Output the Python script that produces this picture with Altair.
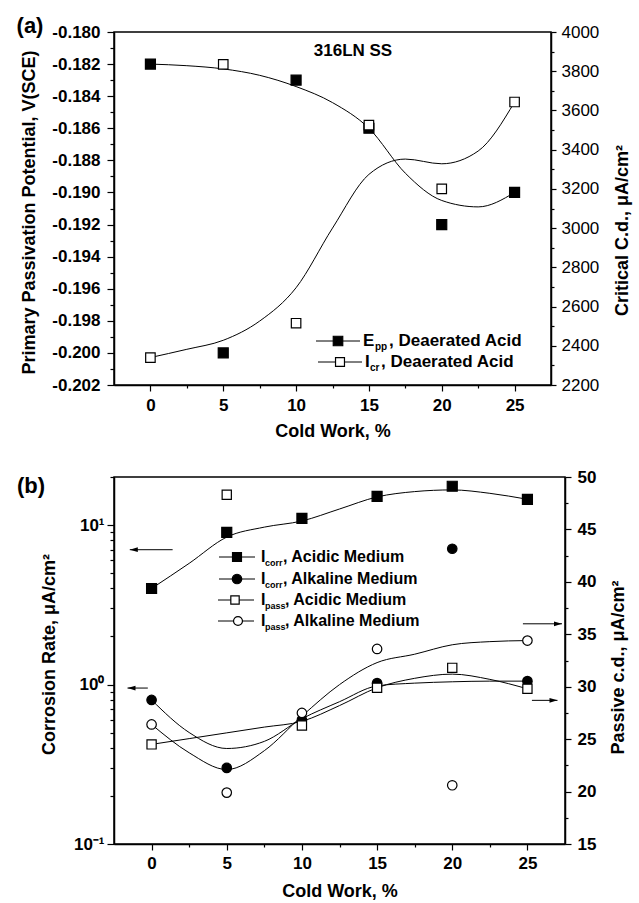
import altair as alt
import pandas as pd

FONT = "Liberation Sans"

# ---------------- data ----------------
cold_work = [0, 5, 10, 15, 20, 25]

# panel (a): primary passivation potential (left axis) and critical c.d. (right axis)
epp_v = [-0.182, -0.200, -0.183, -0.186, -0.192, -0.190]
icr_ua = [2340, 3835, 2515, 3525, 3200, 3643]
# fitted curves as drawn in the figure
fit_cw = [0, 2.5, 5, 7.5, 10, 12.5, 15, 17.5, 20, 22.5, 25]
epp_fit = [-0.1820, -0.1821, -0.1823, -0.1827, -0.1834, -0.1844, -0.1860,
           -0.1888, -0.1905, -0.1909, -0.1900]
icr_fit = [2340, 2382, 2428, 2526, 2696, 3000, 3274, 3352, 3328, 3393, 3643]

# panel (b): corrosion rate (left, log) and passive c.d. (right)
icorr_acid = [4.0, 9.0, 11.0, 15.1, 17.5, 14.5]
icorr_alk = [0.80, 0.30, 0.60, 1.02, 7.1, 1.05]
ipass_acid = [24.5, 48.3, 26.3, 29.9, 31.8, 29.8]
ipass_alk = [26.4, 19.9, 27.5, 33.6, 20.6, 34.4]
icorr_acid_fit = [4.0, 5.75, 8.4, 9.7, 10.6, 12.6, 15.0, 16.2, 16.6, 15.8, 14.5]
icorr_alk_fit = [0.80, 0.50, 0.397, 0.44, 0.61, 0.78, 0.98, 1.02, 1.04, 1.05, 1.05]
ipass_acid_fit = [24.5, 25.05, 25.6, 26.15, 26.7, 28.2, 29.9, 30.8, 31.2, 30.7, 29.8]
ipass_alk_fit = [26.4, 23.7, 22.1, 23.9, 27.2, 30.2, 32.3, 33.1, 34.0, 34.3, 34.4]

# axis pointer arrows (panel b)
arrow_left_from = [1.4, -0.25]
arrow_left_to = [-1.45, -1.6]
arrow_left_rate = [7.0, 0.95]
arrow_right_from = [24.7, 25.3]
arrow_right_to = [27.3, 27.0]
arrow_right_cd = [36.0, 28.7]

# tick values
x_ticks = [0, 2.5, 5, 7.5, 10, 12.5, 15, 17.5, 20, 22.5, 25]
epp_ticks = [round(-0.202 + 0.001 * i, 3) for i in range(23)]
icr_ticks = list(range(2200, 4001, 100))
rate_ticks = [0.1, 0.2, 0.3, 0.4, 0.5, 0.6, 0.7, 0.8, 0.9,
              1, 2, 3, 4, 5, 6, 7, 8, 9, 10, 20]
pcd_ticks = [15 + 2.5 * i for i in range(15)]

# ---------------- tables ----------------
df_a = pd.DataFrame({"cw": cold_work, "epp": epp_v, "icr": icr_ua})
fit_a = pd.DataFrame({"cw": fit_cw, "epp": epp_fit, "icr": icr_fit})
df_b = pd.DataFrame({"cw": cold_work, "ca": icorr_acid, "cl": icorr_alk,
                     "pa": ipass_acid, "pl": ipass_alk})
fit_b = pd.DataFrame({"cw": fit_cw, "ca": icorr_acid_fit, "cl": icorr_alk_fit,
                      "pa": ipass_acid_fit, "pl": ipass_alk_fit})
arr_l = pd.DataFrame({"x0": arrow_left_from, "x1": arrow_left_to, "y": arrow_left_rate})
arr_r = pd.DataFrame({"x0": arrow_right_from, "x1": arrow_right_to, "y": arrow_right_cd})
ONE = pd.DataFrame({"k": [0]})

XSCALE = alt.Scale(domain=[-2.5, 27.5], nice=False, zero=False)


# ---------------- helpers ----------------
def x_enc(label_pad, title_y, field="cw"):
    return alt.X(
        f"{field}:Q",
        scale=XSCALE,
        axis=alt.Axis(
            values=x_ticks,
            labelExpr="datum.value % 5 === 0 ? format(datum.value, 'd') : ''",
            tickSize={"condition": {"test": "datum.value % 5 === 0", "value": 6}, "value": 3},
            labelPadding=label_pad, labelOverlap=False,
            title="Cold Work, %", titleY=title_y,
        ),
    )


def txt(s, x, y, size=17, weight="bold", align="left"):
    return alt.Chart(ONE).mark_text(
        text=s, font=FONT, fontSize=size, fontWeight=weight, align=align,
        baseline="middle", color="black",
    ).encode(x=alt.value(x), y=alt.value(y))


def marker(shape, filled, size):
    return dict(shape=shape, filled=True, fill="black" if filled else "white",
                stroke="black", strokeWidth=1.2, size=size, opacity=1)


def legend_row(y, x0, x1, xm, shape, filled, msize, main, sub, rest,
               x_main, x_sub, x_rest, fs):
    line = alt.Chart(ONE).mark_rule(color="black", strokeWidth=1).encode(
        x=alt.value(x0), x2=alt.value(x1), y=alt.value(y))
    mk = alt.Chart(ONE).mark_point(**marker(shape, filled, msize)).encode(
        x=alt.value(xm), y=alt.value(y))
    return [line, mk, txt(main, x_main, y, fs), txt(sub, x_sub, y + 6, round(fs * 0.58)),
            txt(rest, x_rest, y, fs)]


# ---------------- panel (a) ----------------
xa = x_enc(6, 37)
ya_l_axis = alt.Axis(
    orient="left", values=epp_ticks,
    labelExpr="abs(round(datum.value * 1000)) % 2 === 0 ? replace(format(datum.value, '.3f'), '\u2212', '-') : ''",
    tickSize={"condition": {"test": "abs(round(datum.value * 1000)) % 2 === 0", "value": 7}, "value": 4},
    labelPadding=7, labelOverlap=False,
    title="Primary Passivation Potential, V(SCE)", titleX=-76, titleY=180,
    titleBaseline="bottom",
)
ya_l = dict(scale=alt.Scale(domain=[-0.202, -0.180], nice=False, zero=False), axis=ya_l_axis)
ya_r_axis = alt.Axis(
    orient="right", values=icr_ticks,
    labelExpr="datum.value % 200 === 0 ? format(datum.value, 'd') : ''",
    tickSize={"condition": {"test": "datum.value % 200 === 0", "value": 5}, "value": 3},
    labelPadding=5, labelFontWeight="normal", labelOverlap=False,
    title="Critical C.d., \u03bcA/cm\u00b2", titleAngle=270, titleBaseline="top",
    titleX=62, titleY=198,
)
ya_r = dict(scale=alt.Scale(domain=[2200, 4000], nice=False, zero=False), axis=ya_r_axis)

epp_line = alt.Chart(fit_a).mark_line(interpolate="monotone", color="black", strokeWidth=1).encode(
    x=xa, y=alt.Y("epp:Q", **ya_l))
epp_pts = alt.Chart(df_a).mark_point(**marker("square", True, 100)).encode(
    x=xa, y=alt.Y("epp:Q", **ya_l))
icr_line = alt.Chart(fit_a).mark_line(interpolate="monotone", color="black", strokeWidth=1).encode(
    x=xa, y=alt.Y("icr:Q", **ya_r))
icr_pts = alt.Chart(df_a).mark_point(**marker("square", False, 90)).encode(
    x=xa, y=alt.Y("icr:Q", **ya_r))

left_a = alt.layer(epp_line, epp_pts)
right_a = alt.layer(icr_line, icr_pts)

decor_a = [txt("(a)", -84, -6, 22, align="center"), txt("316LN SS", 239, 19, 17, align="center")]
decor_a += legend_row(309, 202, 246, 224, "square", True, 90, "E", "pp", ", Deaerated Acid",
                      249, 261, 275, 17)
decor_a += legend_row(330, 204, 248, 226, "square", False, 80, "I", "cr", ", Deaerated Acid",
                      251, 256, 267, 17)

panel_a = alt.layer(left_a, right_a, *decor_a).resolve_scale(y="independent").properties(
    width=437, height=353)

# ---------------- panel (b) ----------------
xb = x_enc(5, 38)
xb0 = x_enc(5, 38, "x0")
yb_l_axis = alt.Axis(
    orient="left", values=rate_ticks,
    labelExpr="datum.value === 0.1 ? '10\u207b\u00b9' : datum.value === 1 ? '10\u2070' : datum.value === 10 ? '10\u00b9' : ''",
    tickSize={"condition": {"test": "datum.value === 0.1 || datum.value === 1 || datum.value === 10", "value": 7}, "value": 4},
    labelPadding=3, labelOverlap=False,
    title="Corrosion Rate, \u03bcA/cm\u00b2", titleX=-56, titleY=177,
    titleBaseline="bottom",
)
yb_l = dict(scale=alt.Scale(type="log", domain=[0.1, 20], nice=False), axis=yb_l_axis)
yb_r_axis = alt.Axis(
    orient="right", values=pcd_ticks,
    labelExpr="datum.value % 5 === 0 ? format(datum.value, 'd') : ''",
    tickSize={"condition": {"test": "datum.value % 5 === 0", "value": 6}, "value": 3},
    labelPadding=6, labelOverlap=False,
    title="Passive c.d., \u03bcA/cm\u00b2", titleAngle=270, titleBaseline="top",
    titleX=44, titleY=190,
)
yb_r = dict(scale=alt.Scale(domain=[15, 50], nice=False, zero=False), axis=yb_r_axis)


def fit_line(field, ydef):
    return alt.Chart(fit_b).mark_line(interpolate="monotone", color="black", strokeWidth=1).encode(
        x=xb, y=alt.Y(f"{field}:Q", **ydef))


def pts(field, ydef, shape, filled, size):
    return alt.Chart(df_b).mark_point(**marker(shape, filled, size)).encode(
        x=xb, y=alt.Y(f"{field}:Q", **ydef))


arr_l_rule = alt.Chart(arr_l).mark_rule(color="black", strokeWidth=1).encode(
    x=xb0, x2="x1:Q", y=alt.Y("y:Q", **yb_l))
arr_l_head = alt.Chart(arr_l).mark_point(
    shape="M0,0L2,-0.6L2,0.6Z", filled=True, color="black", size=64, opacity=1).encode(
    x=alt.X("x1:Q", scale=XSCALE), y=alt.Y("y:Q", **yb_l))
arr_r_rule = alt.Chart(arr_r).mark_rule(color="black", strokeWidth=1).encode(
    x=xb0, x2="x1:Q", y=alt.Y("y:Q", **yb_r))
arr_r_head = alt.Chart(arr_r).mark_point(
    shape="M0,0L-2,-0.6L-2,0.6Z", filled=True, color="black", size=64, opacity=1).encode(
    x=alt.X("x1:Q", scale=XSCALE), y=alt.Y("y:Q", **yb_r))

left_b = alt.layer(
    fit_line("ca", yb_l), fit_line("cl", yb_l),
    pts("ca", yb_l, "square", True, 100), pts("cl", yb_l, "circle", True, 90),
    arr_l_rule, arr_l_head,
)
right_b = alt.layer(
    fit_line("pa", yb_r), fit_line("pl", yb_r),
    pts("pa", yb_r, "square", False, 85), pts("pl", yb_r, "circle", False, 90),
    arr_r_rule, arr_r_head,
)

decor_b = [txt("(b)", -83, 9, 22, align="center")]
rows_y = [80, 102, 123, 144]
decor_b += legend_row(rows_y[0], 105, 141, 123, "square", True, 80, "I", "corr", ", Acidic Medium",
                      147, 151, 169, 16)
decor_b += legend_row(rows_y[1], 105, 141, 123, "circle", True, 90, "I", "corr", ", Alkaline Medium",
                      147, 151, 169, 16)
decor_b += legend_row(rows_y[2], 104, 140, 121, "square", False, 70, "I", "pass", ", Acidic Medium",
                      147, 151, 171, 16)
decor_b += legend_row(rows_y[3], 104, 140, 124, "circle", False, 80, "I", "pass", ", Alkaline Medium",
                      147, 151, 171, 16)

panel_b = alt.layer(left_b, right_b, *decor_b).resolve_scale(y="independent").properties(
    width=451, height=367)

chart = alt.vconcat(panel_a, panel_b, spacing=26).properties(
    padding={"left": 15, "top": 14, "right": 5, "bottom": 5}
).configure_view(stroke="black", strokeWidth=1.5).configure_axis(
    labelFont=FONT, titleFont=FONT, labelFontSize=17, titleFontSize=18,
    labelFontWeight="bold", titleFontWeight="bold", labelColor="black", titleColor="black",
    domainColor="black", domainWidth=1.5, tickColor="black", tickWidth=1.2, grid=False,
)

chart.save("out.html", embed_options={"renderer": "svg", "actions": False})
